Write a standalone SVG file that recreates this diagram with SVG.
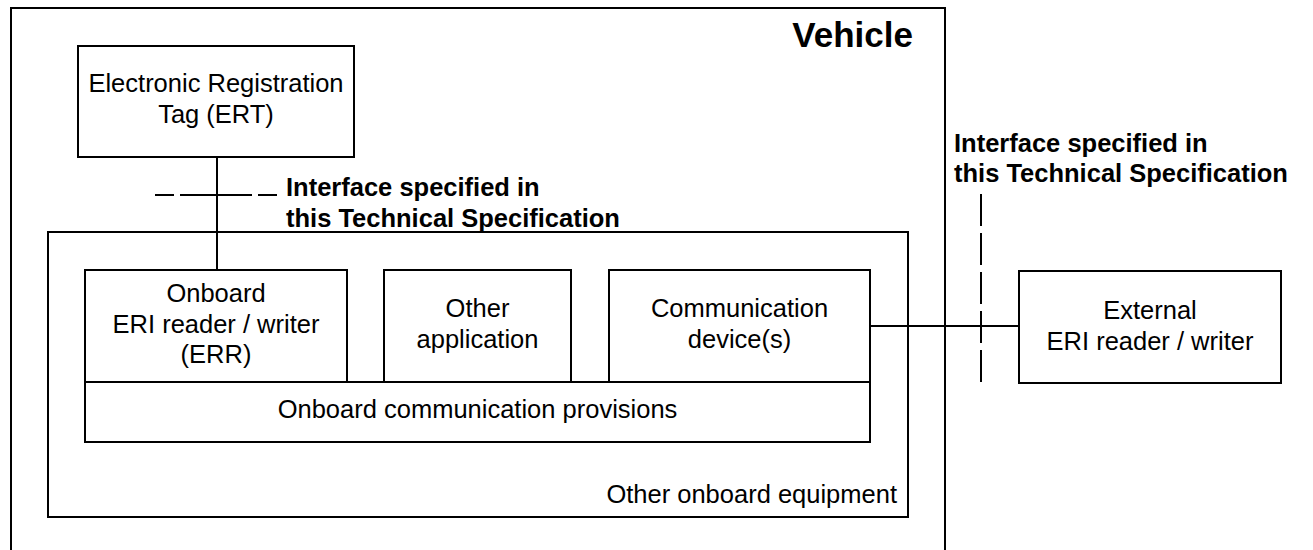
<svg xmlns="http://www.w3.org/2000/svg" width="1313" height="550" viewBox="0 0 1313 550">
<style>
.box{fill:#fff;stroke:#000;stroke-width:2}
.frame{fill:none;stroke:#000;stroke-width:2}
.ln{stroke:#000;stroke-width:2;fill:none}
.t{font-family:"Liberation Sans",Arial,sans-serif;font-size:25.5px;fill:#000}
.c{text-anchor:middle}
.b{font-weight:bold}
.big{font-size:35px}
</style>
<rect width="1313" height="550" fill="#fff"/>
<g id="vehicle">
<rect class="frame" x="11" y="8" width="934" height="560"/>
<text class="t b big" x="913" y="47" text-anchor="end">Vehicle</text>
</g>
<g id="other-onboard-equipment">
<rect class="frame" x="48" y="232" width="860" height="285"/>
<text class="t" x="897" y="503" text-anchor="end">Other onboard equipment</text>
</g>
<g id="ert">
<rect class="box" x="78" y="46" width="276" height="111"/>
<text class="t c" x="216" y="92">Electronic Registration</text>
<text class="t c" x="216" y="123">Tag (ERT)</text>
</g>
<g id="err">
<rect class="box" x="85" y="270" width="262" height="112"/>
<text class="t c" x="216" y="302">Onboard</text>
<text class="t c" x="216" y="333">ERI reader / writer</text>
<text class="t c" x="216" y="363">(ERR)</text>
</g>
<g id="other-application">
<rect class="box" x="384" y="270" width="187" height="112"/>
<text class="t c" x="477.5" y="317">Other</text>
<text class="t c" x="477.5" y="348">application</text>
</g>
<g id="communication-devices">
<rect class="box" x="609" y="270" width="261" height="112"/>
<text class="t c" x="739.5" y="317">Communication</text>
<text class="t c" x="739.5" y="348">device(s)</text>
</g>
<g id="onboard-communication-provisions">
<rect class="box" x="85" y="382" width="785" height="60"/>
<text class="t c" x="477.5" y="418">Onboard communication provisions</text>
</g>
<g id="external-reader">
<rect class="box" x="1019" y="271" width="262" height="112"/>
<text class="t c" x="1150" y="319">External</text>
<text class="t c" x="1150" y="350">ERI reader / writer</text>
</g>
<g id="interface-label-1">
<text class="t b" x="286" y="196">Interface specified in</text>
<text class="t b" x="286" y="227">this Technical Specification</text>
</g>
<g id="interface-label-2">
<text class="t b" x="954" y="152">Interface specified in</text>
<text class="t b" x="954" y="182">this Technical Specification</text>
</g>
<g id="connectors">
<line class="ln" x1="217" y1="157" x2="217" y2="270"/>
<line class="ln" x1="870" y1="326" x2="1019" y2="326"/>
<path class="ln" d="M155 195H174M180 195H252M258 195H277"/>
<line class="ln" x1="981" y1="194" x2="981" y2="383" stroke-dasharray="32,7"/>
</g>
</svg>
